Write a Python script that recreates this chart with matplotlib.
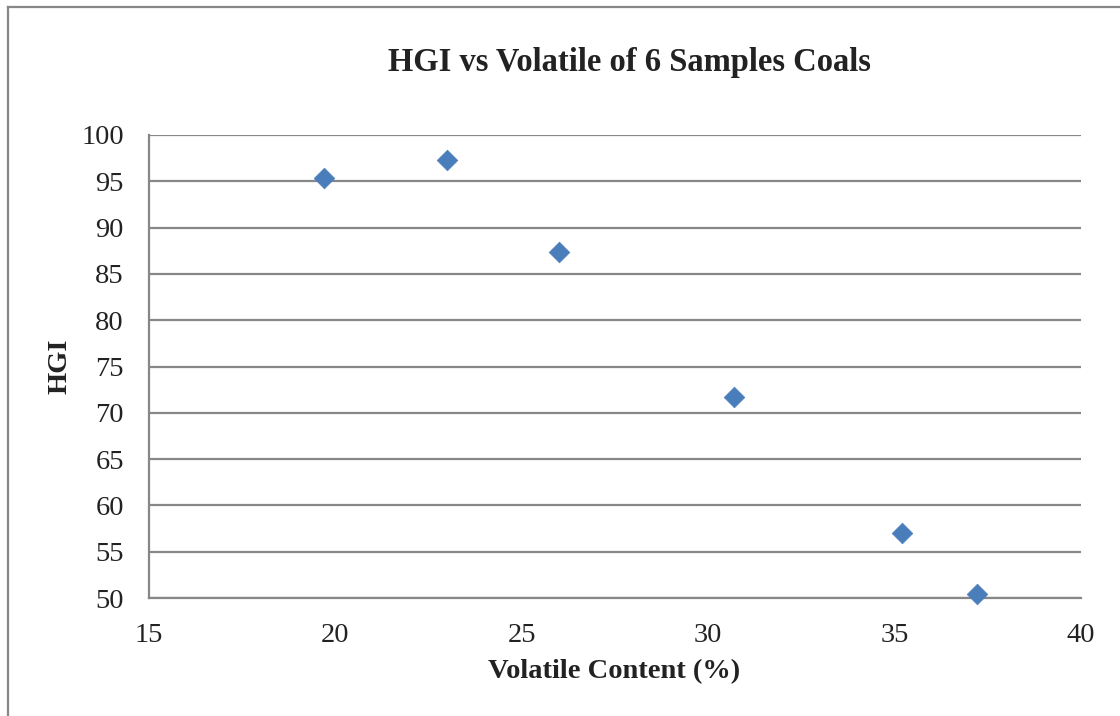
import matplotlib
matplotlib.use("Agg")
import matplotlib.pyplot as plt
from matplotlib.lines import Line2D

# Volatile matter content (%) and Hardgrove Grindability Index for six coal samples
volatile = [19.7, 23.0, 26.0, 30.7, 35.2, 37.2]
hgi = [95.4, 97.3, 87.4, 71.7, 57.0, 50.4]

x_ticks = [15, 20, 25, 30, 35, 40]
y_ticks = [50, 55, 60, 65, 70, 75, 80, 85, 90, 95, 100]

W, H = 1120, 716
fig = plt.figure(figsize=(W / 100, H / 100), dpi=100)
serif = ["Liberation Serif", "DejaVu Serif"]
grey = "#878787"
ink = "#222222"

# axes box in pixel coordinates
left, right, top, bottom = 149, 1081, 135, 598
ax = fig.add_axes([left / W, 1 - bottom / H, (right - left) / W, (bottom - top) / H])

ax.scatter(volatile, hgi, marker="D", s=10.5 ** 2, color="#4A7EBB",
           edgecolors="#4A7EBB", linewidths=0.5, zorder=3, clip_on=False)

ax.set_xlim(15, 40)
ax.set_ylim(50, 100)
ax.set_xticks(x_ticks)
ax.set_yticks(y_ticks)
ax.set_xticklabels([str(t) for t in x_ticks], family=serif, fontsize=20.5, color=ink)
ax.set_yticklabels([str(t) for t in y_ticks], family=serif, fontsize=20.5, color=ink)
ax.tick_params(axis="both", length=0)
ax.tick_params(axis="x", pad=18)
ax.tick_params(axis="y", pad=18)

ax.yaxis.grid(True, color=grey, linewidth=1.6)
ax.set_axisbelow(True)
for side in ("top", "right"):
    ax.spines[side].set_visible(False)
for side in ("left", "bottom"):
    ax.spines[side].set_color(grey)
    ax.spines[side].set_linewidth(1.6)

fig.text(629 / W, 1 - 63 / H, "HGI vs Volatile of 6 Samples Coals", family=serif,
         fontsize=23.5, fontweight="bold", ha="center", va="center", color=ink)
fig.text(614 / W, 1 - 672 / H, "Volatile Content (%)", family=serif,
         fontsize=20.5, fontweight="bold", ha="center", va="center", color=ink)
fig.text(60 / W, 1 - 366 / H, "HGI", family=serif, rotation=90,
         fontsize=20.5, fontweight="bold", ha="center", va="center", color=ink)

# outer chart border (left and top edges)
fig.add_artist(Line2D([8 / W, 8 / W], [0, 1 - 7 / H], transform=fig.transFigure,
                      color=grey, linewidth=1.6))
fig.add_artist(Line2D([8 / W, 1], [1 - 7 / H, 1 - 7 / H], transform=fig.transFigure,
                      color=grey, linewidth=1.6))

fig.savefig("out.png", dpi=100, facecolor="white")
